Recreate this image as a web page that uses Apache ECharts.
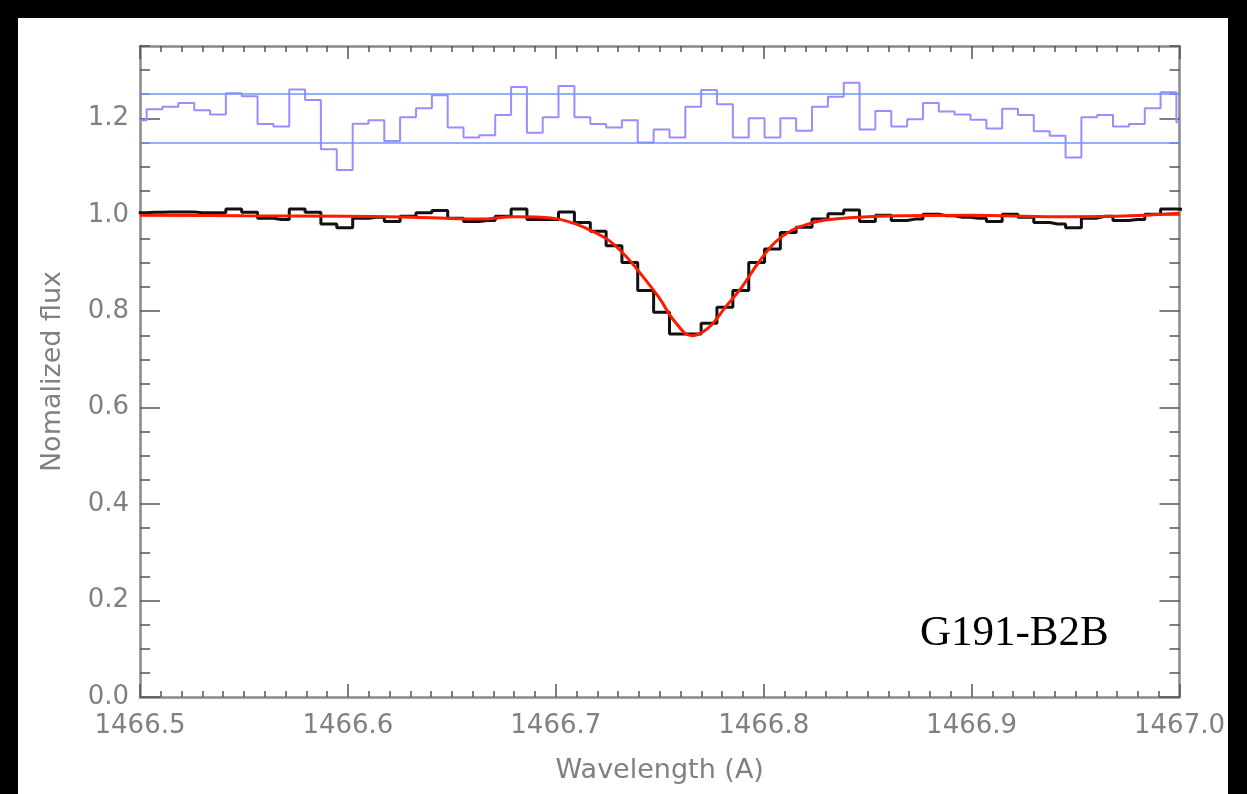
<!DOCTYPE html>
<html>
<head>
<meta charset="utf-8">
<script src="https://cdn.jsdelivr.net/npm/echarts@6/dist/echarts.min.js"></script>
<style>
html, body { margin:0; padding:0; background:#000; width:1247px; height:794px; overflow:hidden; }
#chart { position:absolute; left:18px; top:18px; width:1210px; height:776px; background:#fff; }
</style>
</head>
<body>
<div id="chart"></div>
<script>
// bin centres of the spectrum (A)
var wave = [1466.4994, 1466.5070, 1466.5146, 1466.5223, 1466.5299, 1466.5375, 1466.5451, 1466.5527,
    1466.5604, 1466.5680, 1466.5756, 1466.5832, 1466.5908, 1466.5985, 1466.6061, 1466.6137,
    1466.6213, 1466.6289, 1466.6366, 1466.6442, 1466.6518, 1466.6594, 1466.6670, 1466.6747,
    1466.6823, 1466.6899, 1466.6975, 1466.7051, 1466.7128, 1466.7204, 1466.7280, 1466.7356,
    1466.7432, 1466.7509, 1466.7585, 1466.7661, 1466.7737, 1466.7813, 1466.7890, 1466.7966,
    1466.8042, 1466.8118, 1466.8194, 1466.8271, 1466.8347, 1466.8423, 1466.8499, 1466.8575,
    1466.8652, 1466.8728, 1466.8804, 1466.8880, 1466.8956, 1466.9033, 1466.9109, 1466.9185,
    1466.9261, 1466.9337, 1466.9414, 1466.9490, 1466.9566, 1466.9642, 1466.9718, 1466.9795,
    1466.9871, 1466.9947, 1467.0023];

// observed normalized flux (black histogram)
var flux = [1.004, 1.005, 1.006, 1.006, 1.004, 1.004, 1.012, 1.005,
    0.993, 0.990, 1.012, 1.005, 0.981, 0.973, 0.993, 0.995,
    0.986, 0.997, 1.004, 1.009, 0.993, 0.986, 0.988, 0.997,
    1.012, 0.990, 0.990, 1.006, 0.984, 0.966, 0.936, 0.901,
    0.843, 0.798, 0.753, 0.753, 0.775, 0.808, 0.843, 0.901,
    0.929, 0.963, 0.974, 0.991, 1.002, 1.010, 0.986, 0.999,
    0.988, 0.991, 1.001, 0.998, 0.995, 0.993, 0.986, 1.001,
    0.995, 0.984, 0.981, 0.973, 0.993, 0.997, 0.988, 0.990,
    1.001, 1.012, 1.011];

// residuals shifted to 1.2 (purple histogram)
var resid = [1.196, 1.219, 1.224, 1.232, 1.217, 1.208, 1.252, 1.246,
    1.188, 1.183, 1.260, 1.238, 1.136, 1.093, 1.189, 1.196,
    1.153, 1.202, 1.221, 1.248, 1.181, 1.160, 1.165, 1.207,
    1.265, 1.170, 1.202, 1.267, 1.202, 1.188, 1.181, 1.196,
    1.150, 1.177, 1.160, 1.224, 1.259, 1.229, 1.160, 1.200,
    1.160, 1.200, 1.174, 1.224, 1.245, 1.274, 1.177, 1.215,
    1.183, 1.198, 1.232, 1.214, 1.208, 1.197, 1.179, 1.220,
    1.207, 1.173, 1.164, 1.119, 1.202, 1.207, 1.183, 1.188,
    1.221, 1.254, 1.192];

// model fit (red)
var modelWave = [1466.500, 1466.550, 1466.600, 1466.640, 1466.663, 1466.680, 1466.693, 1466.7015,
    1466.7095, 1466.7175, 1466.7255, 1466.7335, 1466.7415, 1466.7495, 1466.7575, 1466.7655,
    1466.7735, 1466.7815, 1466.7895, 1466.7975, 1466.8055, 1466.8135, 1466.8215, 1466.8295,
    1466.8455, 1466.870, 1466.900, 1466.940, 1466.970, 1467.000];
var modelFlux = [0.999, 0.998, 0.997, 0.994, 0.991, 0.996, 0.995, 0.991,
    0.981, 0.966, 0.947, 0.915, 0.874, 0.829, 0.777, 0.749,
    0.766, 0.808, 0.850, 0.901, 0.943, 0.968, 0.981, 0.989,
    0.995, 0.998, 0.999, 0.996, 0.997, 1.003];

// +-1 sigma band of the residuals
var refLevels = [1.15, 1.25];

var xTicks = [1466.5, 1466.6, 1466.7, 1466.8, 1466.9, 1467.0];
var yTicks = [0.0, 0.2, 0.4, 0.6, 0.8, 1.0, 1.2];

var labelFont = 'DejaVu Sans';
var labelColor = '#808080';
var frameColor = '#8a8a8a';
var tickColor = '#555';

function zip(xs, ys) {
    var out = [];
    for (var i = 0; i < xs.length; i++) out.push([xs[i], ys[i]]);
    return out;
}

function xAxisDef(pos, major) {
    return {
        type: 'value', position: pos, min: 1466.5, max: 1467.0,
        interval: major ? 0.1 : 0.01,
        axisLine: { show: major, onZero: false, lineStyle: { color: frameColor, width: 2.5 } },
        axisTick: { show: true, inside: true, length: major ? 13 : 6, lineStyle: { color: tickColor, width: 1.5 } },
        axisLabel: {
            show: major && pos == 'bottom', margin: 16, color: labelColor,
            fontFamily: labelFont, fontSize: 26,
            formatter: function (v) { return v.toFixed(1); }
        },
        splitLine: { show: false }
    };
}

function yAxisDef(pos, major) {
    var ax = {
        type: 'value', position: pos, min: 0, max: 1.35,
        interval: major ? 0.2 : 0.05,
        axisLine: { show: major, onZero: false, lineStyle: { color: frameColor, width: 2.5 } },
        axisTick: { show: true, inside: true, length: major ? 20 : 10, lineStyle: { color: tickColor, width: 1.5 } },
        axisLabel: {
            show: major && pos == 'left', margin: 11, color: labelColor,
            fontFamily: labelFont, fontSize: 26,
            formatter: function (v) { return v.toFixed(1); }
        },
        splitLine: { show: false }
    };
    if (major) {
        ax.axisTick.customValues = yTicks;
        ax.axisLabel.customValues = yTicks;
    }
    return ax;
}

var xAxes = [xAxisDef('bottom', true), xAxisDef('bottom', false), xAxisDef('top', true), xAxisDef('top', false)];
xAxes[0].name = 'Wavelength (A)';
xAxes[0].nameLocation = 'middle';
xAxes[0].nameGap = 60;
xAxes[0].nameTextStyle = { color: labelColor, fontFamily: labelFont, fontSize: 27 };
xAxes[0].axisTick.customValues = xTicks;
xAxes[0].axisLabel.customValues = xTicks;

var yAxes = [yAxisDef('left', true), yAxisDef('left', false), yAxisDef('right', true), yAxisDef('right', false)];
yAxes[0].name = 'Nomalized flux';
yAxes[0].nameLocation = 'middle';
yAxes[0].nameGap = 74;
yAxes[0].nameTextStyle = { color: labelColor, fontFamily: labelFont, fontSize: 27 };

var option = {
    animation: false,
    backgroundColor: '#fff',
    grid: { left: 122, top: 28, right: 46, bottom: 97 },
    xAxis: xAxes,
    yAxis: yAxes,
    graphic: [{
        type: 'text', left: 902, top: 594,
        style: { text: 'G191-B2B', font: '43px "Liberation Serif"', fill: '#000' }
    }],
    series: [
        {
            name: 'residual', type: 'line', step: 'middle', symbol: 'none',
            data: zip(wave, resid),
            lineStyle: { color: '#9b8cff', width: 2 },
            markLine: {
                silent: true, symbol: ['none', 'none'], label: { show: false },
                lineStyle: { color: '#6f94ff', width: 1.5, type: 'solid' },
                data: refLevels.map(function (v) { return { yAxis: v }; })
            },
            z: 2
        },
        {
            name: 'data', type: 'line', step: 'middle', symbol: 'none',
            data: zip(wave, flux),
            lineStyle: { color: '#111', width: 3 },
            z: 3
        },
        {
            name: 'model', type: 'line', smooth: 0.4, symbol: 'none',
            data: zip(modelWave, modelFlux),
            lineStyle: { color: '#ff1a00', width: 3 },
            z: 4
        }
    ]
};

var myChart = echarts.init(document.getElementById('chart'));
myChart.setOption(option);
</script>
</body>
</html>
